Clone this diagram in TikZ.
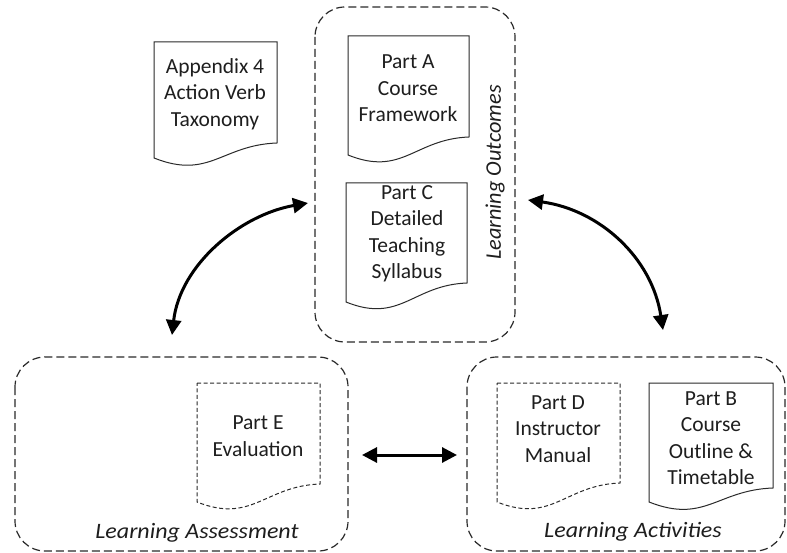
\documentclass[tikz,border=0pt]{standalone}
\usepackage{fontspec}
\setmainfont{Carlito}
\newfontfamily\lafont{Carlito}[FakeStretch=1.09]
\newfontfamily\lofont{Carlito}
\usetikzlibrary{arrows.meta}
\definecolor{ink}{HTML}{1E1E1E}
\definecolor{lin}{HTML}{2A2A2A}
\newcommand\mydoc[6][]{%
  \pgfmathsetmacro\dw{#3-#2}%
  \draw[docline,#1] (#2,#4) -- (#3,#4) -- (#3,#6)
    .. controls ({#2+0.55*\dw},{#6+2}) and ({#2+0.45*\dw},{#5+22}) .. (#2,#5) -- cycle;}
\begin{document}
\begin{tikzpicture}[x=1pt,y=-1pt,
  txt/.style={font=\fontsize{21.5}{26.5}\selectfont, align=center, text=ink, inner sep=0pt},
  ltxt/.style={font=\lafont\fontsize{22}{26.5}\selectfont\itshape, text=ink, inner sep=0pt},
  rtxt/.style={font=\lofont\fontsize{22.3}{26.5}\selectfont\itshape, text=ink, inner sep=0pt},
  docline/.style={draw=lin, line width=1pt},
  docdash/.style={dash pattern=on 4pt off 2.5pt},
  container/.style={draw=lin, line width=1.2pt, dash pattern=on 8pt off 4pt, rounded corners=30pt},
  bigarrow/.style={line width=3pt, draw=black, {Triangle[length=15pt,width=15pt]}-{Triangle[length=15pt,width=15pt]}}]
\useasboundingbox (0,0) rectangle (787,553);
\fill[white] (0,0) rectangle (787,553);

% containers
\draw[container] (315,7) rectangle (515,342);
\draw[container] (15,357) rectangle (348,551);
\draw[container] (467,357) rectangle (785,551);

% document shapes
\mydoc{154}{277}{42}{158}{143}
\mydoc{348}{469}{36}{155}{137}
\mydoc{346}{467}{183}{302}{283}
\mydoc[docdash]{197}{320}{383}{502}{484}
\mydoc[docdash]{497}{620}{383}{502}{483}
\mydoc{649}{773}{383}{502}{488}

% texts
\node[txt] (appx) at (215,94) {Appendix 4\\Action Verb\\Taxonomy};
\node[txt] (partA) at (408,88.5) {Part A\\Course\\Framework};
\node[txt] (partC) at (407,234) {Part C\\Detailed\\Teaching\\Syllabus};
\node[txt] (partE) at (258,436) {Part E\\Evaluation};
\node[txt] (partD) at (558,429) {Part D\\Instructor\\Manual};
\node[txt] (partB) at (711,438) {Part B\\Course\\Outline \&\\Timetable};
\node[rtxt, rotate=90] (lo) at (495,172.5) {Learning Outcomes};
\node[ltxt] (la) at (197,533) {Learning Assessment};
\node[ltxt] (lac) at (633,532) {Learning Activities};

% connector end points
\coordinate (outL) at (308,203);
\coordinate (assT) at (172,335);
\coordinate (outR) at (528,200);
\coordinate (actT) at (663,330);
\coordinate (assR) at (362,455);
\coordinate (actL) at (457,455);

\draw[bigarrow] (assT) .. controls (180,265) and (240,215) .. (outL);
\draw[bigarrow] (outR) .. controls (600,210) and (652,258) .. (actT);
\draw[bigarrow] (assR) -- (actL);
\end{tikzpicture}
\end{document}
